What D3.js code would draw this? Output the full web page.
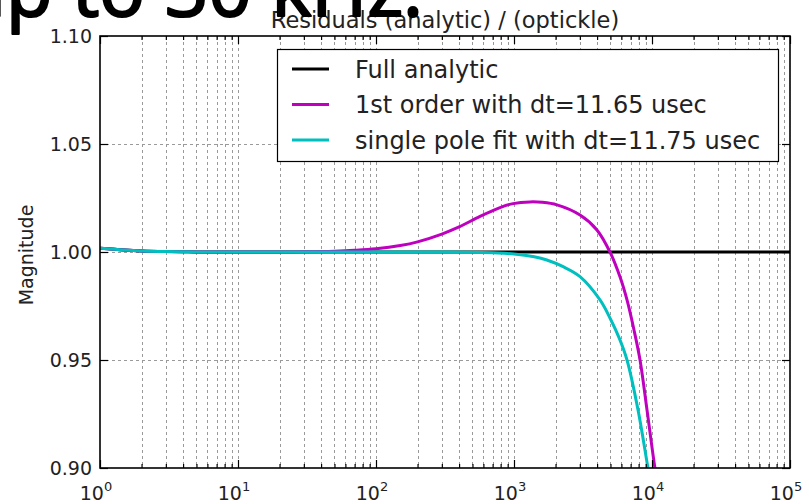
<!DOCTYPE html>
<html><head><meta charset="utf-8">
<script src="https://cdn.jsdelivr.net/npm/d3@7"></script>
<style>body{margin:0;background:#fff;overflow:hidden}svg{display:block}</style>
</head><body><svg id="c" width="809" height="504"></svg>
<script>
// ---- data ----
const titleText = "Residuals (analytic) / (optickle)";
const overlayText = "up to 30 kHz.";
const yLabel = "Magnitude";
const yTicks = [0.90, 0.95, 1.00, 1.05, 1.10];
const xDecades = [0, 1, 2, 3, 4, 5];
const seriesNames = ["Full analytic", "1st order with dt=11.65 usec", "single pole fit with dt=11.75 usec"];
const seriesColors = ["#000000", "#bf00bf", "#00bfbf"];

const fullFreq = [1, 1.5, 2, 3, 4, 5, 10, 100, 1000, 10000, 100000];
const fullMag  = [1.0017, 1.0009, 1.0005, 1.0002, 1.0001, 1.0, 1.0, 1.0, 1.0, 1.0, 1.0];

const firstFreq = [1, 1.5, 2, 3, 4, 5, 10, 20, 30, 50, 70, 100, 150, 200, 300, 400, 567, 800, 984, 1306, 1600, 2050, 3010, 3990, 4960, 5870, 6590, 7400, 8190, 9200, 10500, 11500];
const firstMag  = [1.0017, 1.0009, 1.0005, 1.0002, 1.0001, 1.0, 1.0, 1.0, 1.0001, 1.0004, 1.0008, 1.0015, 1.0030, 1.0047, 1.0083, 1.0116, 1.0165, 1.0207, 1.0224, 1.0232, 1.0230, 1.0218, 1.0171, 1.0102, 1.0, 0.9884, 0.9778, 0.964, 0.95, 0.9269, 0.90, 0.885];

const poleFreq = [1, 1.5, 2, 3, 4, 5, 10, 100, 300, 500, 700, 1000, 1400, 1730, 2270, 3010, 4200, 5000, 5800, 6590, 7920, 9350, 10300];
const poleMag  = [1.0017, 1.0009, 1.0005, 1.0002, 1.0001, 1.0, 1.0, 1.0, 1.0, 0.9999, 0.9996, 0.9991, 0.9978, 0.9963, 0.9932, 0.9886, 0.9778, 0.969, 0.960, 0.95, 0.9269, 0.90, 0.885];

// ---- layout ----
const svg = d3.select("#c");
const L = 100, R = 790, T = 36, B = 468;
const x = d3.scaleLog().domain([1, 1e5]).range([L, R]);
const y = d3.scaleLinear().domain([0.90, 1.10]).range([B, T]);
const FONT = "DejaVu Sans, sans-serif";

const minors = [];
for (let d = 0; d < 5; d++) for (let m = 2; m <= 9; m++) minors.push(m * Math.pow(10, d));
const majors = xDecades.map(d => Math.pow(10, d));

// grid
const grid = svg.append("g").attr("stroke", "#9a9a9a").attr("stroke-width", 1).attr("stroke-dasharray", "3,3");
minors.concat(majors.slice(1, -1)).forEach(v => {
  grid.append("line").attr("x1", Math.round(x(v)) + 0.5).attr("x2", Math.round(x(v)) + 0.5).attr("y1", T).attr("y2", B);
});
yTicks.slice(1, -1).forEach(v => {
  grid.append("line").attr("x1", L).attr("x2", R).attr("y1", Math.round(y(v)) + 0.5).attr("y2", Math.round(y(v)) + 0.5);
});

svg.append("clipPath").attr("id", "clip").append("rect").attr("x", L).attr("y", T).attr("width", R - L).attr("height", B - T);

const line = d3.line().x(d => x(d[0])).y(d => y(d[1])).curve(d3.curveCatmullRom.alpha(0.5));
const series = [
  d3.zip(fullFreq, fullMag),
  d3.zip(firstFreq, firstMag),
  d3.zip(poleFreq, poleMag)
];
const lines = svg.append("g").attr("clip-path", "url(#clip)");
series.forEach((s, i) => {
  lines.append("path").datum(s).attr("d", line).attr("fill", "none")
    .attr("stroke", seriesColors[i]).attr("stroke-width", 3).attr("stroke-linejoin", "round");
});

// axes with inside ticks on all sides
const axB = d3.axisBottom(x).tickValues(majors).tickSizeInner(-8).tickSizeOuter(0).tickFormat("");
const axT = d3.axisTop(x).tickValues(majors).tickSizeInner(-8).tickSizeOuter(0).tickFormat("");
const axBm = d3.axisBottom(x).tickValues(minors).tickSizeInner(-4).tickSizeOuter(0).tickFormat("");
const axTm = d3.axisTop(x).tickValues(minors).tickSizeInner(-4).tickSizeOuter(0).tickFormat("");
const axL = d3.axisLeft(y).tickValues(yTicks).tickSizeInner(-8).tickSizeOuter(0).tickFormat("");
const axR = d3.axisRight(y).tickValues(yTicks).tickSizeInner(-8).tickSizeOuter(0).tickFormat("");
function styleAx(g) { g.select(".domain").remove(); g.selectAll("line").attr("stroke", "#000").attr("stroke-width", 1.2); }
svg.append("g").attr("transform", `translate(0,${B})`).call(axB).call(styleAx);
svg.append("g").attr("transform", `translate(0,${B})`).call(axBm).call(styleAx);
svg.append("g").attr("transform", `translate(0,${T})`).call(axT).call(styleAx);
svg.append("g").attr("transform", `translate(0,${T})`).call(axTm).call(styleAx);
svg.append("g").attr("transform", `translate(${L},0)`).call(axL).call(styleAx);
svg.append("g").attr("transform", `translate(${R},0)`).call(axR).call(styleAx);

svg.append("rect").attr("x", L).attr("y", T).attr("width", R - L).attr("height", B - T)
  .attr("fill", "none").attr("stroke", "#000").attr("stroke-width", 1.6);

// y tick labels
svg.append("g").selectAll("text").data(yTicks).join("text")
  .attr("x", 92).attr("y", d => y(d)).attr("dy", "0.36em").attr("text-anchor", "end")
  .attr("font-family", FONT).attr("font-size", 19).attr("fill", "#222")
  .text(d => d.toFixed(2));

// x tick labels 10^n
const xl = svg.append("g").selectAll("text").data(xDecades).join("text")
  .attr("x", d => x(Math.pow(10, d)) - 4).attr("y", 500).attr("text-anchor", "middle")
  .attr("font-family", FONT).attr("font-size", 19).attr("fill", "#222");
xl.append("tspan").text("10");
xl.append("tspan").attr("font-size", 13).attr("dy", -9).text(d => d);

// y label
svg.append("text").attr("transform", "translate(33,255) rotate(-90)").attr("text-anchor", "middle")
  .attr("font-family", FONT).attr("font-size", 19).attr("fill", "#222").text(yLabel);

// title
svg.append("text").attr("x", (L + R) / 2).attr("y", 28).attr("text-anchor", "middle")
  .attr("font-family", FONT).attr("font-size", 22.5).attr("fill", "#222").text(titleText);

// legend
const lg = svg.append("g");
lg.append("rect").attr("x", 277.5).attr("y", 49.5).attr("width", 501).attr("height", 112)
  .attr("fill", "#fff").attr("stroke", "#000").attr("stroke-width", 1.2);
seriesNames.forEach((n, i) => {
  const cy = 69 + i * 35.5;
  lg.append("line").attr("x1", 292).attr("x2", 329).attr("y1", cy).attr("y2", cy)
    .attr("stroke", seriesColors[i]).attr("stroke-width", 3);
  lg.append("text").attr("x", 355).attr("y", cy).attr("dy", "0.36em")
    .attr("font-family", FONT).attr("font-size", 24).attr("fill", "#222").text(n);
});

// overlay big text (clipped at top of image, as in the reference)
svg.append("text").attr("x", 423).attr("y", 16).attr("text-anchor", "end")
  .attr("font-family", "Open Sans, sans-serif").attr("font-size", 76).attr("fill", "#000")
  .attr("stroke", "#000").attr("stroke-width", 2.2).attr("stroke-linejoin", "round")
  .text(overlayText);
</script></body></html>
